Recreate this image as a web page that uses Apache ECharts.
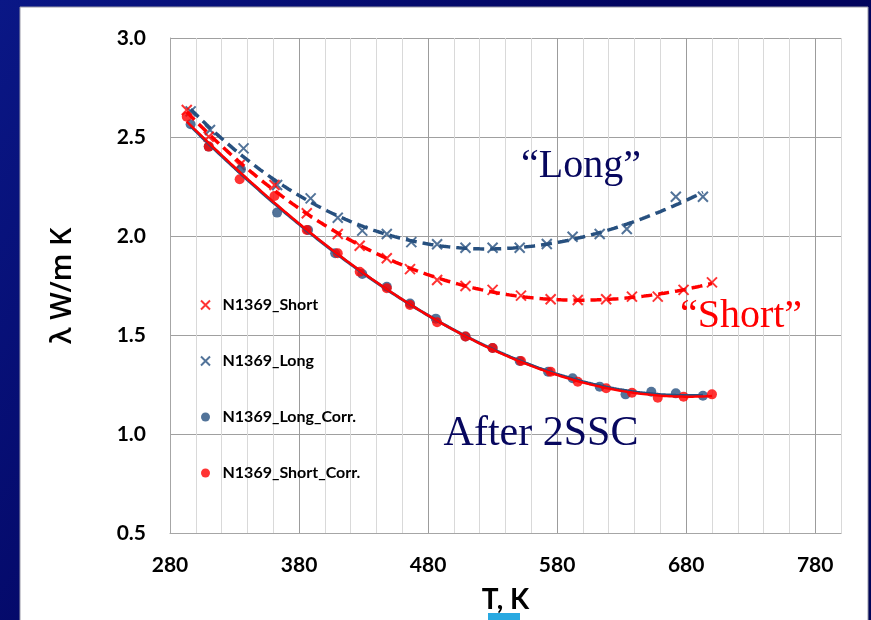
<!DOCTYPE html>
<html>
<head>
<meta charset="utf-8">
<script src="https://cdn.jsdelivr.net/npm/echarts@6/dist/echarts.min.js"></script>
<style>
  html, body { margin: 0; padding: 0; background: #02045f; }
  #chart { width: 871px; height: 620px; }
</style>
</head>
<body>
<div id="chart"></div>
<script>
// Thermal conductivity of sample N1369, short and long specimens, raw and corrected
const shortT     = [293, 310, 334, 361, 386, 410, 427, 448, 466, 487, 509, 530, 552, 575, 596, 618, 638, 658, 678, 700];
const shortVal   = [2.637, 2.502, 2.359, 2.258, 2.116, 2.011, 1.952, 1.889, 1.834, 1.779, 1.749, 1.729, 1.700, 1.682, 1.678, 1.682, 1.695, 1.695, 1.729, 1.767];

const longT      = [296, 311, 337, 363, 389, 410, 429, 448, 467, 487, 509, 530, 551, 572, 592, 613, 634, 672, 693];
const longVal    = [2.630, 2.536, 2.443, 2.258, 2.191, 2.093, 2.028, 2.011, 1.970, 1.959, 1.942, 1.942, 1.942, 1.961, 1.997, 2.011, 2.036, 2.199, 2.199];

const longCorrT  = [296, 310, 335, 363, 387, 408, 429, 448, 466, 486, 509, 530, 551, 573, 592, 613, 633, 653, 672, 693];
const longCorrV  = [2.565, 2.452, 2.338, 2.119, 2.031, 1.914, 1.809, 1.745, 1.660, 1.584, 1.494, 1.436, 1.370, 1.316, 1.283, 1.241, 1.202, 1.215, 1.207, 1.195];

const shortCorrT = [293, 310, 334, 361, 386, 410, 427, 448, 466, 487, 509, 530, 552, 575, 596, 618, 638, 658, 678, 700];
const shortCorrV = [2.603, 2.452, 2.287, 2.203, 2.031, 1.914, 1.821, 1.737, 1.653, 1.566, 1.494, 1.436, 1.370, 1.316, 1.266, 1.233, 1.210, 1.185, 1.190, 1.202];

const xTickLabels = [280, 380, 480, 580, 680, 780];
const seriesNames = ['N1369_Short', 'N1369_Long', 'N1369_Long_Corr.', 'N1369_Short_Corr.'];

const RED = '#ff0000';
const BLUE = '#27507f';
const NAVY = '#07075e';
const CROSS = 'path://M0,0L10,10M0,10L10,0';

function pairs(xs, ys) { return xs.map((x, i) => [x, ys[i]]); }

// Least-squares polynomial trendline (like a spreadsheet trendline)
function polyFit(xs, ys, deg) {
  const n = deg + 1;
  const A = Array.from({ length: n }, () => new Array(n + 1).fill(0));
  for (let k = 0; k < xs.length; k++) {
    const t = (xs[k] - 500) / 100;
    const p = [];
    for (let i = 0; i < n; i++) p.push(Math.pow(t, i));
    for (let i = 0; i < n; i++) {
      for (let j = 0; j < n; j++) A[i][j] += p[i] * p[j];
      A[i][n] += p[i] * ys[k];
    }
  }
  for (let c = 0; c < n; c++) {
    let piv = c;
    for (let r = c + 1; r < n; r++) if (Math.abs(A[r][c]) > Math.abs(A[piv][c])) piv = r;
    [A[c], A[piv]] = [A[piv], A[c]];
    for (let r = 0; r < n; r++) {
      if (r === c) continue;
      const f = A[r][c] / A[c][c];
      for (let j = c; j <= n; j++) A[r][j] -= f * A[c][j];
    }
  }
  const coef = A.map((row, i) => row[n] / row[i]);
  return T => {
    const t = (T - 500) / 100;
    let s = 0;
    for (let i = n - 1; i >= 0; i--) s = s * t + coef[i];
    return s;
  };
}

function trend(xs, ys, deg) {
  const f = polyFit(xs, ys, deg);
  const lo = Math.min(...xs), hi = Math.max(...xs);
  const out = [];
  for (let T = lo; T < hi; T += 2) out.push([T, f(T)]);
  out.push([hi, f(hi)]);
  return out;
}

const labelFont = { fontFamily: 'Lato', fontWeight: 'bold', fontSize: 21, color: '#000' };

const chart = echarts.init(document.getElementById('chart'), null, { renderer: 'canvas' });

chart.setOption({
  backgroundColor: {
    type: 'linear', x: 0, y: 0, x2: 1, y2: 1,
    colorStops: [{ offset: 0, color: '#0a1786' }, { offset: 0.5, color: '#02045f' }, { offset: 1, color: '#000458' }]
  },
  animation: false,
  graphic: [
    { type: 'rect', z: -10, shape: { x: 20, y: 7, width: 848, height: 620 },
      style: { fill: '#ffffff', stroke: '#9a9aa8', lineWidth: 1 } },
    { type: 'rect', z: -5, shape: { x: 488, y: 613, width: 32, height: 7 },
      style: { fill: '#29a9e1' } },
    { type: 'text', z: 50, style: { x: 581, y: 166, text: '\u201CLong\u201D', fill: NAVY,
      font: '40px "Liberation Serif"', textAlign: 'center', textVerticalAlign: 'middle' } },
    { type: 'text', z: 50, style: { x: 741, y: 316, text: '\u201CShort\u201D', fill: RED,
      font: '40px "Liberation Serif"', textAlign: 'center', textVerticalAlign: 'middle' } },
    { type: 'text', z: 50, style: { x: 541, y: 434, text: 'After 2SSC', fill: NAVY,
      font: '42px "Liberation Serif"', textAlign: 'center', textVerticalAlign: 'middle' } }
  ],
  grid: { left: 170, top: 38, width: 671, height: 495.5, containLabel: false },
  legend: {
    orient: 'vertical', left: 195, top: 292, itemGap: 40,
    itemWidth: 24, itemHeight: 9,
    textStyle: { fontFamily: 'Lato', fontWeight: 'bold', fontSize: 16, color: '#000' },
    data: [
      { name: seriesNames[0], icon: CROSS, itemStyle: { color: RED, borderColor: RED, borderWidth: 2 } },
      { name: seriesNames[1], icon: CROSS, itemStyle: { color: BLUE, borderColor: BLUE, borderWidth: 2 } },
      { name: seriesNames[2], icon: 'circle', itemStyle: { color: BLUE, borderWidth: 0 } },
      { name: seriesNames[3], icon: 'circle', itemStyle: { color: RED, borderWidth: 0 } }
    ]
  },
  xAxis: {
    type: 'value', min: 280, max: 800, interval: 20,
    axisLine: { show: true, lineStyle: { color: '#a6a6a6', width: 1 } },
    axisTick: { show: false },
    axisLabel: Object.assign({ margin: 21,
      formatter: v => (xTickLabels.indexOf(v) >= 0 ? String(v) : '') }, labelFont),
    splitLine: { show: true, lineStyle: { color: ['#9c9c9c', '#d9d9d9', '#d9d9d9', '#d9d9d9', '#d9d9d9'], width: 1 } },
    name: 'T, K', nameLocation: 'middle', nameGap: 52,
    nameTextStyle: { fontFamily: 'Lato', fontWeight: 'bold', fontSize: 28, color: '#000' }
  },
  yAxis: {
    type: 'value', min: 0.5, max: 3.0, interval: 0.5,
    axisLine: { show: true, lineStyle: { color: '#a6a6a6', width: 1 } },
    axisTick: { show: false },
    axisLabel: Object.assign({ margin: 24, formatter: v => v.toFixed(1) }, labelFont),
    splitLine: { show: true, lineStyle: { color: '#a0a0a0', width: 1 } },
    name: '\u03BB W/m K', nameLocation: 'middle', nameGap: 93, nameRotate: 90,
    nameTextStyle: { fontFamily: 'Open Sans', fontWeight: 600, fontSize: 29, color: '#000' }
  },
  series: [
    { name: seriesNames[1], type: 'scatter', data: pairs(longT, longVal), symbol: CROSS, symbolSize: 10,
      itemStyle: { color: BLUE, borderColor: BLUE, borderWidth: 2 }, z: 3 },
    { name: seriesNames[0], type: 'scatter', data: pairs(shortT, shortVal), symbol: CROSS, symbolSize: 10,
      itemStyle: { color: RED, borderColor: RED, borderWidth: 2 }, z: 3 },
    { name: seriesNames[2], type: 'scatter', data: pairs(longCorrT, longCorrV), symbol: 'circle', symbolSize: 10,
      itemStyle: { color: BLUE }, z: 3 },
    { name: seriesNames[3], type: 'scatter', data: pairs(shortCorrT, shortCorrV), symbol: 'circle', symbolSize: 10,
      itemStyle: { color: RED }, z: 4 },
    // trendlines
    { name: 'Long trend', type: 'line', data: trend(longT, longVal, 3), showSymbol: false, silent: true, z: 5,
      lineStyle: { color: BLUE, width: 3.5, type: [11, 6] } },
    { name: 'Short trend', type: 'line', data: trend(shortT, shortVal, 3), showSymbol: false, silent: true, z: 5,
      lineStyle: { color: RED, width: 3.5, type: [11, 6] } },
    { name: 'Long corr trend', type: 'line', data: trend(longCorrT, longCorrV, 3), showSymbol: false, silent: true, z: 5,
      lineStyle: { color: BLUE, width: 3 } },
    { name: 'Short corr trend', type: 'line', data: trend(shortCorrT, shortCorrV, 3), showSymbol: false, silent: true, z: 6,
      lineStyle: { color: RED, width: 2.5 } }
  ]
});
</script>
</body>
</html>
